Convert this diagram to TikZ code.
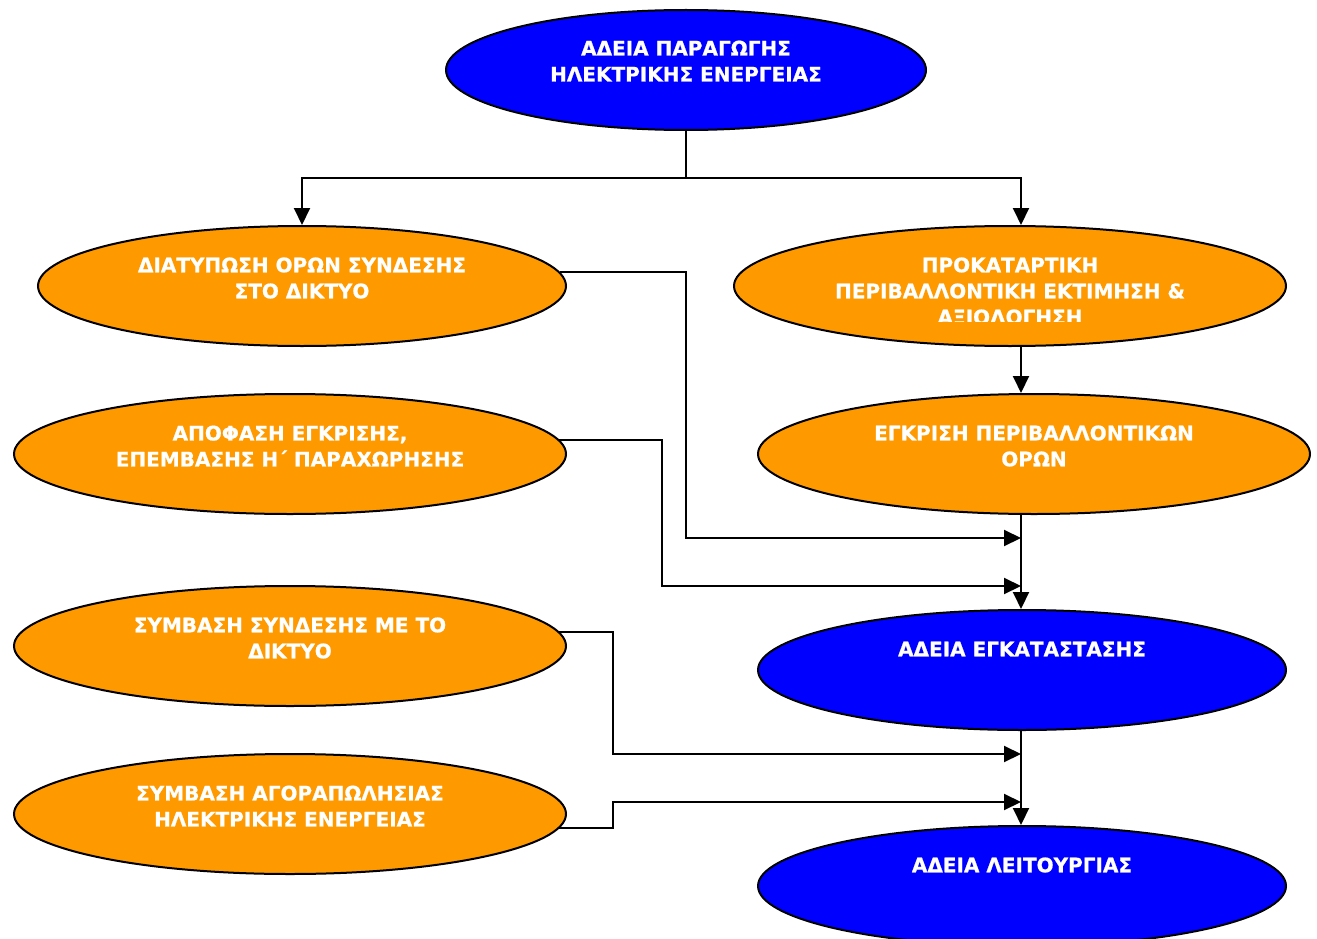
\documentclass[tikz,border=0pt]{standalone}
\usepackage{fontspec}
\setmainfont{DejaVu Sans}[BoldFeatures={FakeBold=0.8}]
\usetikzlibrary{shapes.geometric,arrows.meta,calc}
\definecolor{ellblue}{RGB}{0,0,255}
\definecolor{ellorange}{RGB}{255,153,0}
\begin{document}
\begin{tikzpicture}[x=1pt,y=-1pt,
  ell/.style={ellipse,draw=black,line width=2pt,inner sep=0pt,minimum height=120pt},
  blueell/.style={ell,fill=ellblue},
  orell/.style={ell,fill=ellorange},
  lbl/.style={text=white,font=\fontsize{20}{26}\selectfont\bfseries,align=center,inner sep=0pt},
  conn/.style={line width=2pt,draw=black},
  arr/.style={conn,-{Triangle[length=17pt,width=16pt]}}]
\fill[white] (0,0) rectangle (1317,939);
\clip (0,0) rectangle (1317,939);
% ellipses
\node[blueell,minimum width=480pt] (top) at (686,70) {};
\node[orell,minimum width=528pt] (l1) at (302,286) {};
\node[orell,minimum width=552pt] (r1) at (1010,286) {};
\node[orell,minimum width=552pt] (r2) at (1034,454) {};
\node[orell,minimum width=552pt] (l2) at (290,454) {};
\node[orell,minimum width=552pt] (l3) at (290,646) {};
\node[orell,minimum width=552pt] (l4) at (290,814) {};
\node[blueell,minimum width=528pt] (r3) at (1022,670) {};
\node[blueell,minimum width=528pt] (r4) at (1022,886) {};
% labels
\node[lbl] (ttop) at (686,61) {ΑΔΕΙΑ ΠΑΡΑΓΩΓΗΣ\\ΗΛΕΚΤΡΙΚΗΣ ΕΝΕΡΓΕΙΑΣ};
\node[lbl] (tl1) at (302,278) {ΔΙΑΤΥΠΩΣΗ ΟΡΩΝ ΣΥΝΔΕΣΗΣ\\ΣΤΟ ΔΙΚΤΥΟ};
\begin{scope}
\clip (734,240) rectangle (1286,321);
\node[lbl] (tr1) at (1010,291) {ΠΡΟΚΑΤΑΡΤΙΚΗ\\ΠΕΡΙΒΑΛΛΟΝΤΙΚΗ ΕΚΤΙΜΗΣΗ \&\\ΑΞΙΟΛΟΓΗΣΗ};
\end{scope}
\node[lbl] (tr2) at (1034,446) {ΕΓΚΡΙΣΗ ΠΕΡΙΒΑΛΛΟΝΤΙΚΩΝ\\ΟΡΩΝ};
\node[lbl] (tl2) at (290,446) {ΑΠΟΦΑΣΗ ΕΓΚΡΙΣΗΣ,\\ΕΠΕΜΒΑΣΗΣ Η΄ ΠΑΡΑΧΩΡΗΣΗΣ};
\node[lbl] (tl3) at (290,638) {ΣΥΜΒΑΣΗ ΣΥΝΔΕΣΗΣ ΜΕ ΤΟ\\ΔΙΚΤΥΟ};
\node[lbl] (tl4) at (290,806) {ΣΥΜΒΑΣΗ ΑΓΟΡΑΠΩΛΗΣΙΑΣ\\ΗΛΕΚΤΡΙΚΗΣ ΕΝΕΡΓΕΙΑΣ};
\node[lbl] (tr3) at (1022,649) {ΑΔΕΙΑ ΕΓΚΑΤΑΣΤΑΣΗΣ};
\node[lbl] (tr4) at (1022,865) {ΑΔΕΙΑ ΛΕΙΤΟΥΡΓΙΑΣ};
% helper coordinates
\coordinate (vx) at (1021,0);
\coordinate (j) at (686,178);
\coordinate (k1) at (686,538);
\coordinate (k2) at (662,586);
\coordinate (k3) at (613,754);
\coordinate (k4) at (613,802);
% connectors
\draw[conn] (top.south) -- (j);
\draw[arr] (j) -| (l1.north);
\draw[arr] (j) -| (vx |- r1.north);
\draw[arr] (vx |- r1.south) -- (vx |- r2.north);
\draw[arr] (vx |- r2.south) -- (vx |- r3.north);
\draw[arr] (vx |- r3.south) -- (vx |- r4.north);
\draw[arr] (l1.3) -| (k1) -- (vx |- k1);
\draw[arr] (l2.3) -| (k2) -- (vx |- k2);
\draw[arr] (l3.3) -| (k3) -- (vx |- k3);
\draw[arr] (l4.-3) -| (k4) -- (vx |- k4);
\end{tikzpicture}
\end{document}
